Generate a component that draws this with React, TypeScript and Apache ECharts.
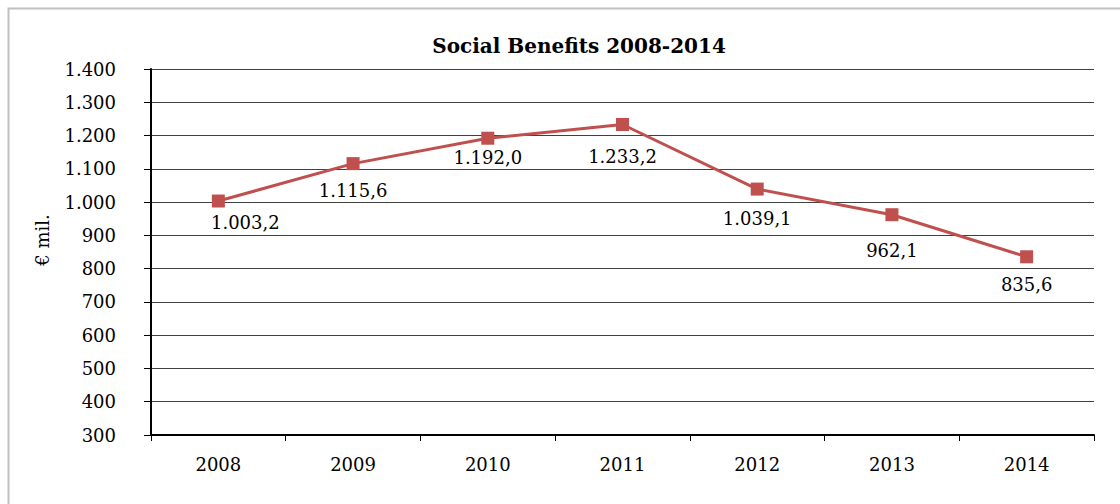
import React, { useEffect, useRef } from "react";
import * as echarts from "echarts";

const years = ["2008", "2009", "2010", "2011", "2012", "2013", "2014"];
const benefits = [1003.2, 1115.6, 1192.0, 1233.2, 1039.1, 962.1, 835.6];
const labelShiftX = [27, 0, 0, 0, 0, 0, 0];
const labelShiftY = [21, 27, 19, 32, 29, 36, 28];
const yMin = 300;
const yMax = 1400;
const yStep = 100;

const FONT = "'DejaVu Serif', 'Liberation Serif', serif";

function fmtThousands(v: number, decimals: number): string {
  const fixed = v.toFixed(decimals);
  const [intPart, dec] = fixed.split(".");
  const withDots = intPart.replace(/\B(?=(\d{3})+(?!\d))/g, ".");
  return dec !== undefined ? withDots + "," + dec : withDots;
}

export default function App() {
  const ref = useRef<HTMLDivElement>(null);
  useEffect(() => {
    document.body.style.margin = "0";
    const chart = echarts.init(ref.current!, undefined, { renderer: "svg" });
    chart.setOption({
      animation: false,
      backgroundColor: "#ffffff",
      title: {
        text: "Social Benefits 2008-2014",
        left: 574,
        top: 31,
        textAlign: "center",
        textStyle: { fontFamily: FONT, fontSize: 20, fontWeight: "bold", color: "#000" },
      },
      graphic: [
        {
          type: "rect",
          shape: { x: 8.5, y: 8.5, width: 1200, height: 600 },
          style: { fill: "none", stroke: "#c0c0c0", lineWidth: 2 },
          silent: true,
        },
        {
          type: "text",
          x: 42,
          y: 240,
          rotation: Math.PI / 2,
          style: {
            text: "€ mil.",
            fontFamily: FONT,
            fontSize: 18,
            fill: "#000",
            align: "center",
            verticalAlign: "middle",
          },
        },
      ],
      grid: { left: 151, right: 26, top: 69, bottom: 69, containLabel: false },
      xAxis: {
        type: "category",
        data: years,
        boundaryGap: true,
        axisLine: { lineStyle: { color: "#000", width: 2 } },
        axisTick: { show: true, length: 6, lineStyle: { color: "#000", width: 1 } },
        axisLabel: { fontFamily: FONT, fontSize: 18, color: "#000", margin: 20 },
        splitLine: { show: false },
      },
      yAxis: {
        type: "value",
        min: yMin,
        max: yMax,
        interval: yStep,
        axisLine: { show: true, lineStyle: { color: "#000", width: 2 } },
        axisTick: { show: true, length: 7, lineStyle: { color: "#000", width: 1 } },
        axisLabel: {
          fontFamily: FONT,
          fontSize: 18,
          color: "#000",
          margin: 35,
          formatter: (v: number) => fmtThousands(v, 0),
        },
        splitLine: { show: true, lineStyle: { color: "#404040", width: 1 } },
      },
      series: [
        {
          type: "line",
          data: benefits.map((v, i) => ({
            value: v,
            label: { offset: [labelShiftX[i], labelShiftY[i]] },
          })),
          symbol: "rect",
          symbolSize: 13,
          lineStyle: { color: "#C0504D", width: 3 },
          itemStyle: { color: "#C0504D" },
          label: {
            show: true,
            position: "inside",
            fontFamily: FONT,
            fontSize: 18,
            color: "#000",
            formatter: (p: any) => fmtThousands(p.value, 1),
          },
        },
      ],
    });
    return () => chart.dispose();
  }, []);
  return <div ref={ref} style={{ width: 1120, height: 504 }} />;
}
